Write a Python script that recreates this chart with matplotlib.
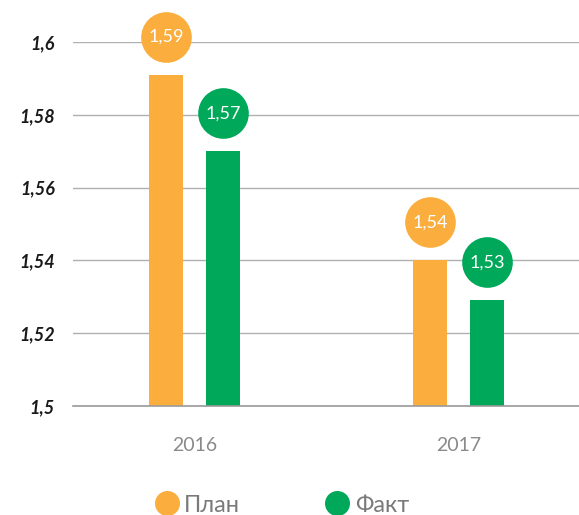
import matplotlib
matplotlib.use("Agg")
import matplotlib.pyplot as plt
from matplotlib.lines import Line2D
import matplotlib.transforms as mtransforms

years = ["2016", "2017"]
plan = [1.591, 1.540]
fact = [1.570, 1.529]
plan_labels = ["1,59", "1,54"]
fact_labels = ["1,57", "1,53"]
yticks = [1.5, 1.52, 1.54, 1.56, 1.58, 1.6]
ytick_labels = ["1,5", "1,52", "1,54", "1,56", "1,58", "1,6"]
series_names = ["План", "Факт"]

ORANGE = "#FBAE3E"
GREEN = "#00A859"

plt.rcParams['font.family'] = ['Lato', 'DejaVu Sans']

fig = plt.figure(figsize=(5.79, 5.15), dpi=100)
ax = fig.add_axes([73/579, 109/515, 506/579, 364/515])

x = list(range(len(years)))
w = 0.129
off = 0.108
xp = [i - off for i in x]
xf = [i + off for i in x]
ax.bar(xp, [v - 1.5 for v in plan], bottom=1.5, width=w, color=ORANGE, zorder=3)
ax.bar(xf, [v - 1.5 for v in fact], bottom=1.5, width=w, color=GREEN, zorder=3)

shift = mtransforms.ScaledTranslation(0, 38/100, fig.dpi_scale_trans)
tr = ax.transData + shift
for xs, vals, labs, col in [(xp, plan, plan_labels, ORANGE), (xf, fact, fact_labels, GREEN)]:
    for xi, v, lab in zip(xs, vals, labs):
        ax.scatter([xi], [v], s=1330, color=col, transform=tr, clip_on=False, zorder=4, linewidths=0)
        ax.text(xi, v, lab, transform=tr, ha="center", va="center", color="white",
                fontsize=13, zorder=5, clip_on=False)

ax.set_xlim(-0.460, 1.456)
ax.set_ylim(1.5, 1.6)
ax.set_yticks(yticks)
ax.set_yticklabels(ytick_labels, fontsize=13, fontweight="bold", style="italic", color="#1a1a1a")
ax.set_xticks(x)
ax.set_xticklabels(years, fontsize=14, color="#8a8a8a")
ax.tick_params(axis="both", length=0)
ax.tick_params(axis="y", pad=13)
ax.tick_params(axis="x", pad=22)
ax.grid(axis="y", color="#b0b0b0", linewidth=1, zorder=0)
ax.axhline(1.5, color="#9a9a9a", linewidth=1.2, zorder=3.5, clip_on=False)
for s in ax.spines.values():
    s.set_visible(False)

handles = [Line2D([], [], marker="o", linestyle="", markersize=18, color=ORANGE, markeredgewidth=0),
           Line2D([], [], marker="o", linestyle="", markersize=18, color=GREEN, markeredgewidth=0)]
leg = fig.legend(handles, series_names, loc="center left", bbox_to_anchor=(143/579, 10/515),
                 ncol=2, frameon=False, fontsize=17, handletextpad=0.15, columnspacing=3.5,
                 handlelength=1.2, borderaxespad=0)
for t in leg.get_texts():
    t.set_color("#7a7a7a")

fig.savefig("out.png", dpi=100)
